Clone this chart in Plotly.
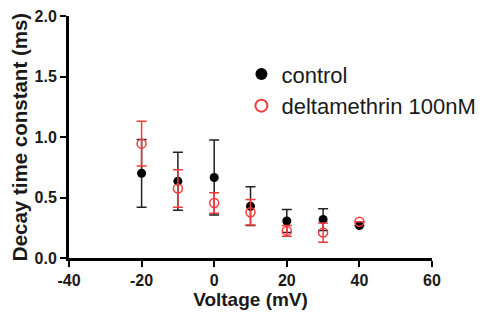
import plotly.graph_objects as go

# Membrane voltage steps (mV)
voltage = [-20, -10, 0, 10, 20, 30, 40]

# Decay time constant (ms), mean and SEM
control_tau = [0.70, 0.635, 0.665, 0.428, 0.306, 0.318, 0.268]
control_sem = [0.28, 0.24, 0.31, 0.16, 0.095, 0.09, 0.0]

delta_tau = [0.945, 0.574, 0.455, 0.378, 0.224, 0.21, 0.30]
delta_sem = [0.185, 0.155, 0.085, 0.105, 0.045, 0.08, 0.0]

x_ticks = [-40, -20, 0, 20, 40, 60]
y_ticks = [0.0, 0.5, 1.0, 1.5, 2.0]

RED = "#f03c3c"
INK = "#1a1a1a"
FONT = "Liberation Sans, Arial, sans-serif"

fig = go.Figure()

fig.add_trace(go.Scatter(
    x=voltage, y=control_tau, mode="markers", name="control",
    marker=dict(symbol="circle", size=9, color="black"),
    error_y=dict(type="data", array=control_sem, visible=True,
                 color="#222222", thickness=1.5, width=5),
))

fig.add_trace(go.Scatter(
    x=voltage, y=delta_tau, mode="markers", name="deltamethrin 100nM",
    marker=dict(symbol="circle-open", size=9, color=RED,
                line=dict(width=1.5, color=RED)),
    error_y=dict(type="data", array=delta_sem, visible=True,
                 color=RED, thickness=1.5, width=5),
))

axis_common = dict(
    showline=True, linecolor="black", linewidth=3,
    ticks="outside", tickcolor="black", tickwidth=2, ticklen=6,
    showgrid=False, zeroline=False, mirror=False,
    tickfont=dict(family=FONT, size=16, color=INK, weight="bold"),
)

fig.update_xaxes(
    range=[-40, 60], tickvals=x_ticks, ticktext=[str(v) for v in x_ticks],
    title=dict(text="Voltage (mV)", standoff=5,
               font=dict(family=FONT, size=19, color=INK, weight="bold")),
    **axis_common,
)
fig.update_yaxes(
    range=[0, 2.0], tickvals=y_ticks, ticktext=[f"{v:.1f}" for v in y_ticks],
    title=dict(text="Decay time constant (ms)", standoff=2,
               font=dict(family=FONT, size=20.5, color=INK, weight="bold")),
    **axis_common,
)

fig.update_layout(
    width=490, height=322,
    margin=dict(l=69, r=58, t=16, b=64, autoexpand=False),
    paper_bgcolor="white", plot_bgcolor="white",
    showlegend=True,
    legend=dict(
        x=0.475, y=0.846, xanchor="left", yanchor="top",
        bgcolor="rgba(0,0,0,0)", borderwidth=0,
        font=dict(family=FONT, size=22, color=INK),
        itemsizing="constant",
    ),
)

fig.write_html("out.html")
